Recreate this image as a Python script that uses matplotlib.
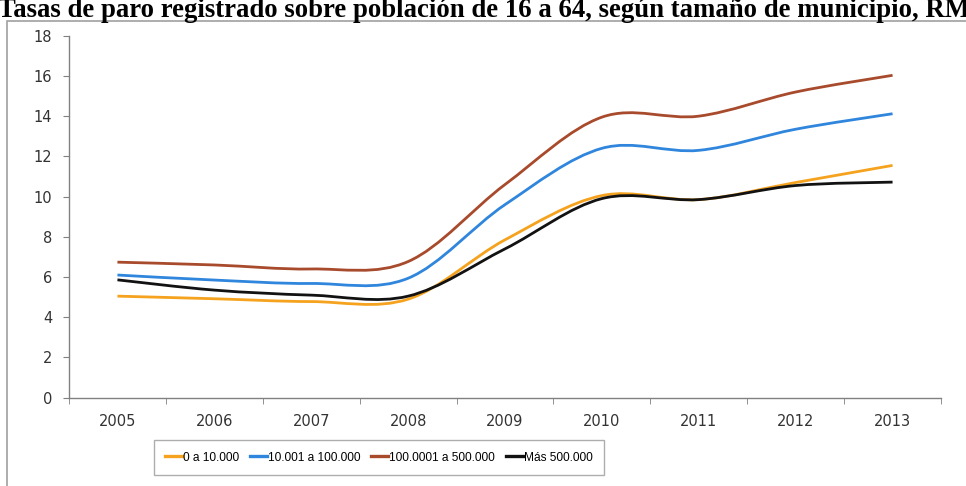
import matplotlib.pyplot as plt
from matplotlib.path import Path
from matplotlib.patches import PathPatch, Rectangle
from matplotlib.lines import Line2D

years = ['2005', '2006', '2007', '2008', '2009', '2010', '2011', '2012', '2013']
labels = ['0 a 10.000', '10.001 a 100.000', '100.0001 a 500.000', 'Más 500.000']

tramo1 = [5.05, 4.92, 4.78, 4.90, 7.85, 10.05, 9.85, 10.70, 11.55]
tramo2 = [6.10, 5.85, 5.68, 5.94, 9.60, 12.40, 12.30, 13.35, 14.12]
tramo3 = [6.74, 6.60, 6.40, 6.77, 10.60, 13.95, 14.00, 15.20, 16.03]
tramo4 = [5.86, 5.35, 5.10, 5.05, 7.40, 9.90, 9.85, 10.55, 10.72]

series = [tramo1, tramo2, tramo3, tramo4]
colors = ['#F5A21E', '#2F86DC', '#A84A2C', '#121212']


def smooth_path(ys):
    # curva suavizada tipo Excel (Catmull-Rom en tramos bezier)
    xs = list(range(len(ys)))
    pts = list(zip(xs, ys))
    verts = [pts[0]]
    codes = [Path.MOVETO]
    n = len(pts)
    for i in range(n - 1):
        p0 = pts[i - 1] if i > 0 else pts[i]
        p1 = pts[i]
        p2 = pts[i + 1]
        p3 = pts[i + 2] if i + 2 < n else pts[i + 1]
        c1 = (p1[0] + (p2[0] - p0[0]) / 6, p1[1] + (p2[1] - p0[1]) / 6)
        c2 = (p2[0] - (p3[0] - p1[0]) / 6, p2[1] - (p3[1] - p1[1]) / 6)
        verts += [c1, c2, p2]
        codes += [Path.CURVE4] * 3
    return Path(verts, codes)


fig = plt.figure(figsize=(9.66, 4.86), dpi=100)

# marco del grafico
fig.patches.append(Rectangle((7 / 966, -0.1), 1.1, (486 - 21) / 486 + 0.1,
                             transform=fig.transFigure, fill=False,
                             edgecolor='#a0a0a0', linewidth=1.2))

fig.text(-0.002, 1 - 17 / 486,
         'Tasas de paro registrado sobre población de 16 a 64, según tamaño de municipio, RM',
         fontfamily='Liberation Serif', fontweight='bold', fontsize=19.3,
         ha='left', va='baseline')

ax = fig.add_axes([69 / 966, 88.3 / 486, (941 - 69) / 966, (450.3 - 88.3) / 486])

for ys, c in zip(series, colors):
    ax.add_patch(PathPatch(smooth_path(ys), fill=False, edgecolor=c,
                           linewidth=2.0, capstyle='butt'))

ax.set_xlim(-0.5, len(years) - 0.5)
ax.set_ylim(0, 18)
ax.set_yticks(range(0, 19, 2))
ax.set_xticks(range(len(years)))
ax.set_xticklabels(years)
ax.set_xticks([i - 0.5 for i in range(len(years) + 1)], minor=True)
ax.tick_params(axis='x', which='major', length=0, pad=12)
ax.tick_params(axis='x', which='minor', length=4, color='#808080', direction='out')
ax.tick_params(axis='y', length=4, color='#808080', pad=8)
for lab in ax.get_xticklabels() + ax.get_yticklabels():
    lab.set_fontfamily('DejaVu Sans')
    lab.set_fontsize(10.5)
    lab.set_color('#333333')

for s in ['top', 'right']:
    ax.spines[s].set_visible(False)
for s in ['left', 'bottom']:
    ax.spines[s].set_color('#808080')
    ax.spines[s].set_linewidth(1.0)

handles = [Line2D([], [], color=c, linewidth=2.4) for c in colors]
leg = fig.legend(handles, labels, loc='center', bbox_to_anchor=(379 / 966, 1 - 457.5 / 486),
                 ncol=4, frameon=True, fancybox=False, handlelength=1.4,
                 handletextpad=0.1, columnspacing=0.9, borderpad=0.95,
                 prop={'family': 'Liberation Sans', 'size': 8.6})
leg.get_frame().set_edgecolor('#999999')
leg.get_frame().set_linewidth(1.0)

fig.savefig('out.png', dpi=100)
